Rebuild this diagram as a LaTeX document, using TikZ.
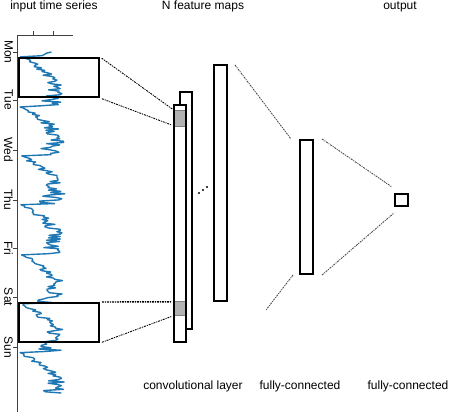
\documentclass[tikz,border=0pt]{standalone}
\usepackage{fontspec}
\setmainfont{Liberation Sans}
\definecolor{seriesblue}{RGB}{31,119,180}

\begin{document}
\begin{tikzpicture}[x=1pt,y=-1pt,
  box/.style={draw,line width=2pt,inner sep=0pt,fill=white},
  window/.style={draw,line width=2pt,inner sep=0pt},
  shadeband/.style={fill=black!30,inner sep=0pt},
  link/.style={line width=0.9pt,dash pattern=on 2pt off 1pt on 1pt off 1pt},
  axis/.style={line width=0.8pt,black!75},
  caption/.style={font=\fontsize{12}{14}\selectfont,anchor=base},
  daylabel/.style={font=\fontsize{12}{14}\selectfont,rotate=-90,anchor=north,inner sep=0pt},
  declare function={dayphase(\t)=mod(\t+42,49.3)/49.3;}]
\useasboundingbox (0,0) rectangle (450,412);
% axes of the input series
\draw[axis] (17,35) -- (17,412);
\draw[axis] (17,35) -- (73,35);
\foreach \tx in {33,53} \draw[axis] (\tx,35) -- (\tx,31);
\foreach \ty/\day in {52/Mon,100/Tue,150/Wed,200/Thu,248/Fri,297/Sat,347/Sun} {
  \draw[axis] (17,\ty) -- (13,\ty);
  \node[daylabel] (\day) at (13,\ty) {\day};
}
\pgfmathsetseed{11}
\draw[seriesblue,line width=1.4pt,line join=round] plot[domain=52:393,samples=280]
  ({21+27*dayphase(\x)+19*sin(180*dayphase(\x))+10*rand*(0.3+dayphase(\x))},\x);
% windows
\node[window,minimum width=80pt,minimum height=39pt] (winA) at (59,77.5) {};
\node[window,minimum width=80pt,minimum height=39pt] (winB) at (59,322.5) {};
% feature maps
\node[box,minimum width=12pt,minimum height=237pt] (mapB) at (186,210.5) {};
\node[box,minimum width=12pt,minimum height=237pt] (mapA) at (180,223.5) {};
\node[shadeband,minimum width=10pt,minimum height=15pt] (shadeA) at (180,118.5) {};
\node[shadeband,minimum width=10pt,minimum height=13pt] (shadeB) at (180,308.5) {};
\foreach \s in {shadeA,shadeB} {
  \draw[black!50,line width=0.8pt] (\s.north west) -- (\s.north east);
  \draw[black!50,line width=0.8pt] (\s.south west) -- (\s.south east);
}
\node[box,minimum width=13pt,minimum height=236pt] (mapN) at (220.5,183) {};
\coordinate (dots) at (203,190);
\foreach \d in {-1,0,1} \fill ([xshift=4*\d pt,yshift=3*\d pt]dots) circle (1.1pt);
% fully-connected and output
\node[box,minimum width=13pt,minimum height=134pt] (fc) at (306.5,207) {};
\node[box,minimum width=13pt,minimum height=12pt] (out) at (401.5,200) {};
\coordinate (fctop) at (235,65);
\coordinate (fcfoot) at (266,310);
% links
\draw[link,shorten <=2pt,shorten >=3pt] (winA.north east) -- (shadeA.north west);
\draw[link,shorten <=2pt,shorten >=3pt] (winA.south east) -- (shadeA.south west);
\draw[link,line width=1.4pt,shorten <=2pt,shorten >=3pt] (winB.north east) -- (shadeB.north west);
\draw[link,shorten <=2pt,shorten >=3pt] (winB.south east) -- (shadeB.south west);
\draw[link,black!70] (fctop) -- ([xshift=-8pt]fc.north west);
\draw[link,black!70] ([xshift=-6pt]fc.south west) -- (fcfoot);
\draw[link,black!70] ([xshift=8pt]fc.north east) -- ([xshift=-2pt,yshift=6pt]out.north west);
\draw[link,black!70] ([xshift=8pt]fc.south east) -- ([yshift=-6pt]out.south west);
% captions
\node[caption] (inlabel) at (54,10) {input time series};
\node[caption] (maplabel) at (203,10) {N feature maps};
\node[caption] (outtitle) at (400,10) {output};
\node[caption] (convlabel) at (193,389) {convolutional layer};
\node[caption] (fclabel) at (300,389) {fully-connected};
\node[caption] (outlabel) at (408,389) {fully-connected};
\end{tikzpicture}
\end{document}
